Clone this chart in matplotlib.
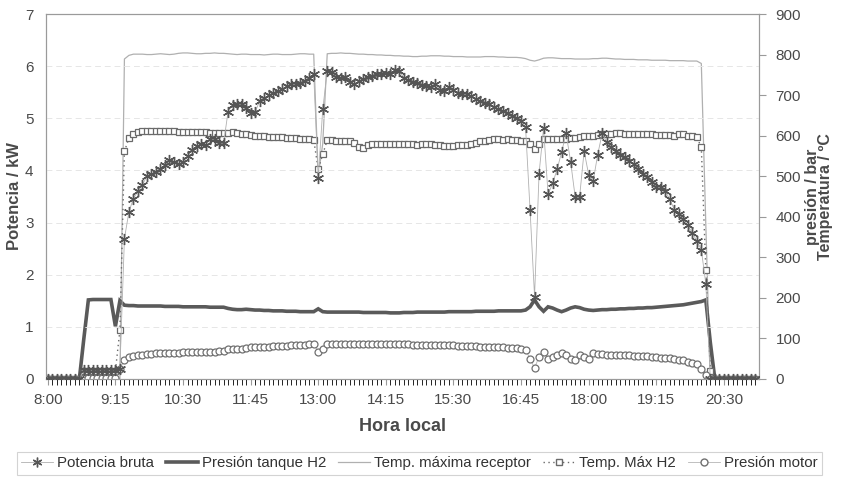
import numpy as np
import matplotlib
matplotlib.use('Agg')
import matplotlib.pyplot as plt
from matplotlib.lines import Line2D

plt.rcParams['font.family'] = ['Liberation Sans', 'DejaVu Sans']

# samples every 5 min from 8:00 to 21:05 (one row = one hour)
minutes = np.arange(158) * 5

potencia_bruta = [  # kW
    0, 0, 0, 0, 0, 0, 0, 0, 0.18, 0.18, 0.18, 0.18,
    0.18, 0.18, 0.18, 0.18, 0.2, 2.69, 3.21, 3.46, 3.6, 3.72, 3.9, 3.93,
    3.97, 4.03, 4.1, 4.2, 4.16, 4.13, 4.16, 4.27, 4.4, 4.46, 4.5, 4.48,
    4.6, 4.6, 4.52, 4.52, 5.13, 5.25, 5.27, 5.27, 5.2, 5.1, 5.12, 5.33,
    5.38, 5.44, 5.48, 5.52, 5.56, 5.62, 5.66, 5.66, 5.67, 5.72, 5.78, 5.85,
    3.85, 5.17, 5.9, 5.88, 5.8, 5.77, 5.8, 5.7, 5.65, 5.71, 5.76, 5.8,
    5.82, 5.84, 5.85, 5.87, 5.85, 5.93, 5.9, 5.78, 5.74, 5.7, 5.67, 5.64,
    5.62, 5.6, 5.65, 5.55, 5.52, 5.6, 5.55, 5.48, 5.47, 5.46, 5.42, 5.37,
    5.33, 5.3, 5.27, 5.22, 5.17, 5.14, 5.1, 5.05, 5.0, 4.95, 4.83, 3.25,
    1.58, 3.94, 4.81, 3.54, 3.75, 4.02, 4.35, 4.71, 4.17, 3.5, 3.5, 4.37,
    3.92, 3.79, 4.3, 4.71, 4.55, 4.45, 4.38, 4.3, 4.25, 4.18, 4.12, 4.03,
    3.94, 3.87, 3.78, 3.69, 3.69, 3.6, 3.45, 3.25, 3.17, 3.06, 2.95, 2.8,
    2.65, 2.48, 1.83, 0, 0, 0, 0, 0, 0, 0, 0, 0,
    0, 0,
]

presion_tanque = [  # bar
    0, 0, 0, 0, 0, 0, 0, 0, 100, 195, 196, 196,
    196, 196, 196, 130, 193, 182, 181, 181, 180, 180, 180, 180,
    180, 180, 179, 179, 179, 179, 178, 178, 178, 178, 178, 178,
    177, 177, 177, 177, 174, 172, 171, 171, 172, 171, 170, 170,
    169, 169, 168, 168, 168, 167, 167, 167, 166, 166, 166, 166,
    173, 166, 165, 165, 165, 165, 165, 165, 165, 165, 164, 164,
    164, 164, 164, 164, 163, 163, 163, 164, 164, 164, 165, 165,
    165, 165, 165, 165, 165, 166, 166, 166, 166, 166, 166, 167,
    167, 167, 167, 167, 168, 168, 168, 168, 168, 168, 170, 178,
    195, 178, 167, 178, 175, 170, 166, 170, 175, 178, 176, 172,
    170, 169, 170, 171, 171, 172, 172, 173, 173, 174, 174, 175,
    175, 176, 176, 177, 178, 179, 180, 181, 182, 183, 185, 187,
    189, 191, 195, 90, 0, 0, 0, 0, 0, 0, 0, 0,
    0, 0,
]

temp_max_receptor = [  # ºC
    0, 0, 0, 0, 0, 0, 0, 0, 0, 0, 0, 0,
    0, 0, 0, 0, 0, 789, 798, 801, 801, 801, 800, 800,
    801, 802, 801, 800, 801, 803, 804, 804, 803, 802, 802, 803,
    803, 804, 803, 803, 802, 801, 800, 801, 801, 800, 800, 800,
    799, 800, 801, 801, 800, 800, 800, 801, 802, 802, 801, 801,
    500, 580, 802, 803, 803, 804, 803, 803, 802, 801, 801, 800,
    800, 799, 799, 798, 798, 797, 797, 796, 796, 795, 795, 796,
    796, 797, 797, 797, 796, 796, 795, 795, 795, 794, 794, 794,
    794, 795, 795, 795, 794, 794, 793, 793, 793, 792, 790, 786,
    784, 787, 791, 792, 792, 791, 790, 790, 790, 789, 789, 789,
    789, 790, 790, 791, 791, 790, 789, 789, 788, 788, 788, 787,
    787, 787, 786, 786, 786, 786, 785, 785, 785, 785, 784, 784,
    784, 778, 380, 0, 0, 0, 0, 0, 0, 0, 0, 0,
    0, 0,
]

temp_max_h2 = [  # ºC
    0, 0, 0, 0, 0, 0, 0, 0, 20, 20, 20, 20,
    20, 20, 20, 20, 121, 561, 594, 605, 610, 611, 611, 611,
    612, 612, 611, 611, 611, 610, 610, 610, 609, 609, 608, 608,
    607, 607, 606, 606, 607, 608, 606, 604, 603, 602, 600, 599,
    598, 597, 597, 596, 596, 595, 594, 594, 593, 592, 591, 590,
    517, 554, 589, 589, 588, 588, 587, 587, 583, 572, 570, 576,
    579, 580, 579, 579, 580, 580, 579, 579, 580, 579, 578, 579,
    579, 580, 578, 576, 575, 575, 575, 576, 576, 577, 580, 583,
    586, 588, 590, 591, 591, 590, 591, 590, 589, 588, 586, 580,
    566, 580, 591, 592, 591, 592, 593, 592, 594, 595, 596, 598,
    599, 600, 601, 603, 604, 605, 606, 606, 605, 605, 604, 604,
    603, 603, 603, 602, 602, 602, 601, 600, 604, 605, 600, 598,
    597, 571, 269, 20, 0, 0, 0, 0, 0, 0, 0, 0,
    0, 0,
]

presion_motor = [  # bar
    0, 0, 0, 0, 0, 0, 0, 0, 3, 3, 3, 3,
    3, 3, 3, 3, 25, 47, 54, 57, 59, 60, 61, 62,
    63, 63, 64, 64, 65, 65, 66, 66, 66, 67, 67, 67,
    67, 67, 68, 68, 74, 75, 75, 74, 76, 78, 79, 79,
    80, 80, 81, 81, 82, 82, 83, 83, 84, 85, 86, 87,
    67, 74, 87, 87, 86, 86, 86, 86, 87, 87, 87, 87,
    87, 87, 87, 87, 86, 86, 86, 86, 86, 85, 85, 85,
    85, 84, 84, 84, 83, 83, 83, 82, 82, 82, 81, 81,
    80, 80, 79, 79, 78, 78, 77, 77, 76, 75, 72, 50,
    27, 55, 67, 50, 55, 59, 64, 59, 50, 47, 59, 55,
    50, 64, 62, 61, 60, 60, 59, 59, 58, 58, 57, 57,
    56, 56, 55, 54, 53, 52, 51, 50, 48, 46, 43, 40,
    37, 25, 10, 0, 0, 0, 0, 0, 0, 0, 0, 0,
    0, 0,
]

tick_minutes = np.arange(0, 751, 75)
tick_labels = ['8:00', '9:15', '10:30', '11:45', '13:00', '14:15',
               '15:30', '16:45', '18:00', '19:15', '20:30']

txt = '#4a4a4a'
star = (6, 2, 0)

fig = plt.figure(figsize=(8.44, 4.78), dpi=100)
ax = fig.add_axes([46 / 844, 1 - 379 / 478, 713 / 844, 365 / 478])
ax2 = ax.twinx()

# right axis (bar / ºC)
ax2.plot(minutes, temp_max_receptor, color='#b0b0b0', lw=0.9, zorder=2)
ax2.plot(minutes, presion_tanque, color='#5a5a5a', lw=2.6, zorder=3,
         solid_joinstyle='miter')
ax2.plot(minutes, temp_max_h2, color='#6a6a6a', lw=1.0, ls=(0, (1, 2.5)),
         marker='s', ms=5, mfc='white', mec='#6a6a6a', mew=0.9, zorder=4)
ax2.plot(minutes, presion_motor, color='#b5b5b5', lw=0.6,
         marker='o', ms=5, mfc='white', mec='#707070', mew=0.9, zorder=4)

# left axis (kW)
ax.plot(minutes, potencia_bruta, color='#b0b0b0', lw=0.6,
        marker=star, ms=8, mec='#555555', mew=1.0, zorder=5)

ax.set_zorder(ax2.get_zorder() + 1)
ax.patch.set_visible(False)

ax.set_xlim(-2, 789)
ax.set_ylim(0, 7)
ax2.set_ylim(0, 900)
ax.set_yticks(range(8))
ax2.set_yticks(range(0, 901, 100))
ax.set_xticks(tick_minutes)
ax.set_xticklabels(tick_labels)
ax.set_xticks(np.arange(0, 789, 5), minor=True)

for a in (ax, ax2):
    for s in a.spines.values():
        s.set_color('#9a9a9a')
        s.set_linewidth(0.8)
    a.tick_params(colors='#9a9a9a', labelcolor=txt, labelsize=11, length=4)
ax.tick_params(axis='x', which='both', length=4, pad=6)
ax.tick_params(axis='x', which='minor', length=4)
ax.tick_params(axis='y', length=0, pad=9)
ax2.tick_params(axis='y', length=5, pad=7)

ax.grid(axis='y', color='#e6e6e6', lw=0.7, ls=(0, (6, 4)))

ax.set_ylabel('Potencia / kW', fontsize=12, fontweight='bold', color=txt)
ax.yaxis.set_label_coords(-0.033, 0.5)
ax2.set_ylabel('presión / bar\nTemperatura / ºC', fontsize=11.5,
               fontweight='bold', color=txt, linespacing=0.9)
ax2.yaxis.set_label_coords(1.064, 0.5)
ax.set_xlabel('Hora local', fontsize=13, fontweight='bold', color=txt,
              labelpad=8)

handles = [
    Line2D([], [], color='#b0b0b0', lw=0.6, marker=star, ms=7,
           mec='#555555', mew=1.0),
    Line2D([], [], color='#5a5a5a', lw=2.6),
    Line2D([], [], color='#b0b0b0', lw=0.9),
    Line2D([], [], color='#6a6a6a', lw=1.0, ls=(0, (1, 2.5)), marker='s',
           ms=5, mfc='white', mec='#6a6a6a'),
    Line2D([], [], color='#b5b5b5', lw=0.6, marker='o', ms=5,
           mfc='white', mec='#707070'),
]
labels = ['Potencia bruta', 'Presión tanque H2', 'Temp. máxima receptor',
          'Temp. Máx H2', 'Presión motor']
leg = fig.legend(handles, labels, loc='center', ncol=5,
                 bbox_to_anchor=(0.497, 0.031), frameon=True, fancybox=False,
                 edgecolor='#c8c8c8', fontsize=10.8, handlelength=2.1,
                 handletextpad=0.3, columnspacing=0.8, borderpad=0.3)
for t in leg.get_texts():
    t.set_color('#333333')
leg.get_frame().set_linewidth(0.8)

fig.savefig('out.png', dpi=100)
